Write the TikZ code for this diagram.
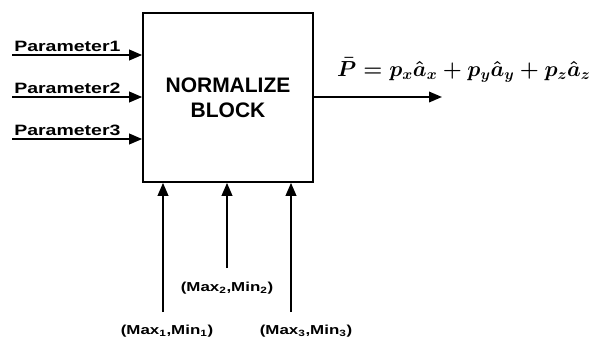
\documentclass[tikz,border=0pt]{standalone}
\usepackage{graphicx}
\usepackage{fontspec}
\setmainfont{Liberation Sans}
\usetikzlibrary{arrows.meta}
\newsavebox{\eqbox}
\begin{document}
\sbox{\eqbox}{\scalebox{1.05}{\fontsize{21}{21}\selectfont\boldmath$\bar{P} = p_x\hat{a}_x + p_y\hat{a}_y + p_z\hat{a}_z$}}%
\begin{tikzpicture}[x=1pt,y=-1pt,
  conn/.style={line width=2pt,-{Triangle[length=13pt,width=10.5pt]}},
  plabel/.style={font=\fontsize{15}{15}\selectfont\bfseries,inner sep=0pt,xscale=1.3,anchor=south west},
  mlabel/.style={font=\fontsize{13}{13}\selectfont\bfseries,inner sep=0pt,xscale=1.3},
  eqstyle/.style={inner sep=0pt,anchor=base west},
  blockbox/.style={draw,line width=1.6pt,minimum width=170pt,minimum height=169pt,inner sep=0pt,align=center,
    font=\fontsize{21}{25}\selectfont\bfseries}]
\useasboundingbox (0,0) rectangle (597,341);
\fill[white] (0,0) rectangle (597,341);
\node[blockbox] (blk) at (228,97.5) {NORMALIZE\\BLOCK};
% input parameters
\coordinate (p1) at (12,55);
\coordinate (p2) at (12,97);
\coordinate (p3) at (12,139);
\draw[conn] (p1) -- (p1 -| blk.west);
\draw[conn] (p2) -- (p2 -| blk.west);
\draw[conn] (p3) -- (p3 -| blk.west);
\node[plabel] (l1) at (14,52) {Parameter1};
\node[plabel] (l2) at (14,94) {Parameter2};
\node[plabel] (l3) at (14,136) {Parameter3};
% output
\coordinate (outp) at (442,97);
\draw[conn] (blk.east |- outp) -- (outp);
\node[eqstyle] (eqn) at (337,76) {\usebox{\eqbox}};
% bottom inputs
\coordinate (m1) at (163,312);
\coordinate (m2) at (227,268);
\coordinate (m3) at (291,312);
\draw[conn] (m1) -- (m1 |- blk.south);
\draw[conn] (m2) -- (m2 |- blk.south);
\draw[conn] (m3) -- (m3 |- blk.south);
\node[mlabel] (ml1) at (167,331) {(Max\textsubscript{1},Min\textsubscript{1})};
\node[mlabel] (ml2) at (227,288) {(Max\textsubscript{2},Min\textsubscript{2})};
\node[mlabel] (ml3) at (306,331) {(Max\textsubscript{3},Min\textsubscript{3})};
\end{tikzpicture}
\end{document}
